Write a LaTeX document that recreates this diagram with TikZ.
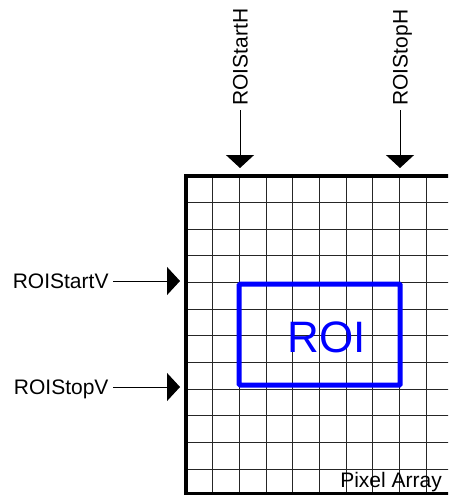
\documentclass[tikz,border=0pt]{standalone}
\usepackage{fontspec}
\setmainfont{Liberation Sans}
\usetikzlibrary{arrows.meta}
\definecolor{roiblue}{RGB}{0,0,255}
\begin{document}
\begin{tikzpicture}[x=1pt,y=-1pt,
  lbl/.style={font=\fontsize{21}{21}\selectfont, inner sep=0pt, outer sep=4.5pt, text height=15pt, text depth=0pt},
  feed/.style={line width=1pt, -{Triangle[length=13pt,width=28pt]}},
  gridline/.style={line width=0.9pt, black!85},
  frame/.style={line width=3.5pt},
  roibox/.style={draw=roiblue, line width=5pt, rounded corners=1pt, inner sep=0pt}]
\useasboundingbox (0,0) rectangle (448,495);
\begin{scope}
  \clip (0,0) rectangle (448,495);
  \foreach \i in {1,...,10} \draw[gridline] (186+26.667*\i,176) -- (186+26.667*\i,494);
  \foreach \j in {1,...,11} \draw[gridline] (186,175.7+26.667*\j) -- (470,175.7+26.667*\j);
  \draw[frame] (470,176) -- (186,176) -- (186,493.8) -- (470,493.8);
\end{scope}
% ROI box
\node[roibox, minimum width=161pt, minimum height=101pt] (roi) at (319.7,334.6) {};
\node[text=roiblue, font=\fontsize{44}{44}\selectfont, inner sep=0pt, text height=31.5pt, text depth=0pt] (roitext) at (326.5,336.7) {ROI};
% label
\node[font=\fontsize{21}{21}\selectfont, inner sep=0pt, anchor=base east] (pa) at (442,487) {Pixel Array};
% arrow tips
\coordinate (tSH) at (240,168);
\coordinate (tEH) at (400,168);
\coordinate (tSV) at (180,281);
\coordinate (tEV) at (180,387);
% labels
\node[lbl, rotate=90, anchor=west] (sH) at (240,110) {ROIStartH};
\node[lbl, rotate=90, anchor=west] (eH) at (400,110) {ROIStopH};
\node[lbl, anchor=east] (sV) at (113,281) {ROIStartV};
\node[lbl, anchor=east] (eV) at (113,387) {ROIStopV};
% connectors
\draw[feed] (sH.west) -- (tSH);
\draw[feed] (eH.west) -- (tEH);
\draw[feed] (sV.east) -- (tSV);
\draw[feed] (eV.east) -- (tEV);
\end{tikzpicture}
\end{document}
